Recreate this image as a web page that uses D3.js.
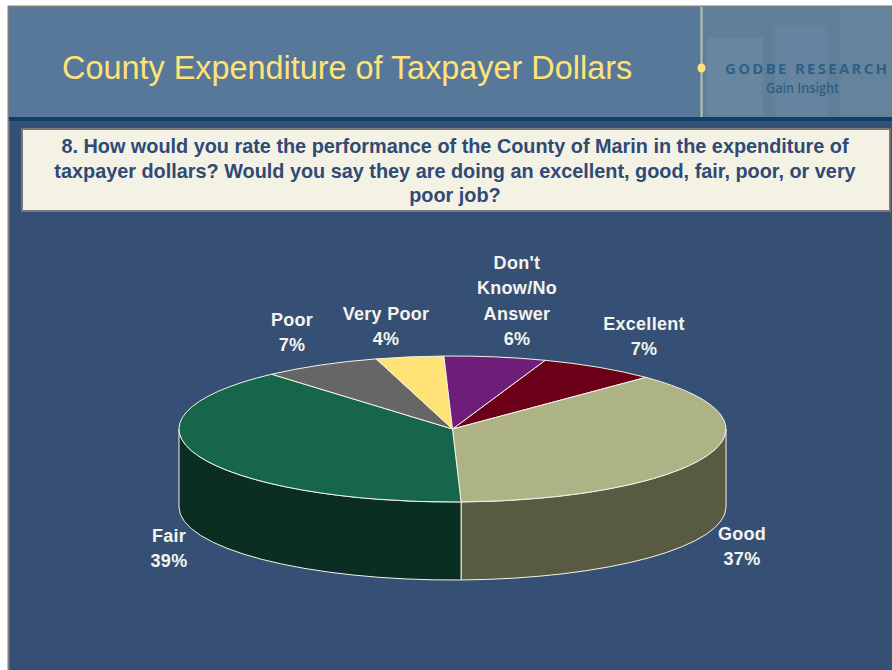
<!DOCTYPE html>
<html>
<head>
    <meta charset="utf-8">
    <title>County Expenditure of Taxpayer Dollars</title>
    <script src="https://d3js.org/d3.v7.min.js"></script>
    <style>
        html, body { margin: 0; padding: 0; background: #fff; }
        svg { display: block; }
        text { font-family: "Liberation Sans", Arial, sans-serif; }
        .label { font-size: 18px; font-weight: bold; fill: #f4f4ee; text-anchor: middle; letter-spacing: 0.3px; }
        .question { font-size: 19.85px; font-weight: bold; fill: #2f4a75; text-anchor: middle; }
    </style>
</head>
<body>
    <div id="chart"></div>

    <script>
        // data, clockwise from the top
        const categories = ["Excellent", "Good", "Fair", "Poor", "Very Poor", "Don't Know/No Answer"];
        const values = [7, 37, 39, 7, 4, 6];
        const topColors = ["#6c0018", "#aeb386", "#15664a", "#666666", "#ffe377", "#6e1d78"];
        const sideColors = ["#36000c", "#585a42", "#0a2e22", "#333333", "#80713b", "#370e3c"];
        const labelLines = [["Excellent", "7%"], ["Good", "37%"], ["Fair", "39%"], ["Poor", "7%"], ["Very Poor", "4%"], ["Don't", "Know/No", "Answer", "6%"]];
        const labelSpots = [[644, 330], [742, 540], [169, 542], [292, 326], [386, 320], [517, 269]];
        const questionLines = [
            "8. How would you rate the performance of the County of Marin in the expenditure of",
            "taxpayer dollars? Would you say they are doing an excellent, good, fair, poor, or very",
            "poor job?"
        ];

        const width = 892;
        const height = 670;
        const cx = 452.5, cy = 429, rx = 273.5, ry = 73, depth = 78;
        const rad = Math.PI / 180;

        const svg = d3.select("#chart")
            .append("svg")
            .attr("width", width)
            .attr("height", height);

        const defs = svg.append("defs");
        defs.append("filter").attr("id", "soft")
            .append("feGaussianBlur").attr("stdDeviation", 1.2);

        // slide background
        svg.append("rect").attr("x", 8).attr("y", 6).attr("width", 884).attr("height", 664)
            .attr("fill", "#365075");
        svg.append("path").attr("d", "M8.5,670V6.5H892").attr("fill", "none").attr("stroke", "#7f7f7f").attr("stroke-width", 2);

        // header band
        svg.append("rect").attr("x", 9).attr("y", 7).attr("width", 883).attr("height", 110)
            .attr("fill", "#587899");
        svg.append("rect").attr("x", 702).attr("y", 7).attr("width", 190).attr("height", 110)
            .attr("fill", "#5f7e98");

        // faint building shapes behind the logo
        const logoBack = svg.append("g").attr("filter", "url(#soft)");
        logoBack.append("rect").attr("x", 707).attr("y", 38).attr("width", 56).attr("height", 79)
            .attr("fill", "#68879f");
        logoBack.append("rect").attr("x", 775).attr("y", 25).attr("width", 52).attr("height", 92)
            .attr("fill", "#66849f");
        logoBack.append("rect").attr("x", 840).attr("y", 7).attr("width", 52).attr("height", 110)
            .attr("fill", "#65839b");

        svg.append("rect").attr("x", 9).attr("y", 117).attr("width", 883).attr("height", 4)
            .attr("fill", "#0e4068");
        svg.append("rect").attr("x", 700.5).attr("y", 7).attr("width", 2).attr("height", 110)
            .attr("fill", "#b9c3a9");
        svg.append("ellipse").attr("cx", 701.5).attr("cy", 68).attr("rx", 4).attr("ry", 4.5)
            .attr("fill", "#ffe377");

        svg.append("text").attr("x", 62).attr("y", 79)
            .style("font-size", "32.4px").attr("fill", "#ffe377")
            .text("County Expenditure of Taxpayer Dollars");

        svg.append("text").attr("x", 725).attr("y", 74)
            .attr("textLength", 162).attr("lengthAdjust", "spacing")
            .style("font-family", "'Open Sans', sans-serif").style("font-size", "15px").style("font-weight", "700")
            .attr("fill", "#2e5f85").text("GODBE RESEARCH");
        svg.append("text").attr("x", 766).attr("y", 93)
            .attr("textLength", 73).attr("lengthAdjust", "spacingAndGlyphs")
            .style("font-family", "'Open Sans', sans-serif").style("font-size", "14px").style("font-weight", "600")
            .attr("fill", "#2e5f85").text("Gain Insight");

        // question box
        svg.append("rect").attr("x", 22).attr("y", 129).attr("width", 868).attr("height", 82)
            .attr("fill", "#f3f2e5").attr("stroke", "#777777").attr("stroke-width", 2);
        svg.selectAll(".question").data(questionLines).enter().append("text")
            .attr("class", "question")
            .attr("x", 455)
            .attr("y", (d, i) => 153 + i * 24.5)
            .text(d => d);

        // pie
        const pie = d3.pie().sort(null).startAngle(19.8 * rad).endAngle((19.8 + 360) * rad);
        const slices = pie(values);
        const norm = a => (a / rad) % 360;

        // front wall only shows between 90 and 270 degrees
        const pt = (a, dy) => [cx + rx * Math.sin(a), cy - ry * Math.cos(a) + dy];
        const wallPath = (a0, a1) => {
            const p = pt(a0, 0), q = pt(a1, 0), r = pt(a1, depth), s = pt(a0, depth);
            return `M${p}A${rx},${ry} 0 0 1 ${q}L${r}A${rx},${ry} 0 0 0 ${s}Z`;
        };
        const walls = svg.append("g");
        slices.forEach((d, i) => {
            const a0 = Math.max(norm(d.startAngle), 90);
            const a1 = Math.min(norm(d.startAngle) + (d.endAngle - d.startAngle) / rad, 270);
            if (a1 <= a0) return;
            walls.append("path")
                .attr("d", wallPath(a0 * rad, a1 * rad))
                .attr("fill", sideColors[i])
                .attr("stroke", "#f4f4e8")
                .attr("stroke-width", 1);
        });

        const arc = d3.arc().innerRadius(0).outerRadius(rx);
        svg.append("g")
            .attr("transform", `translate(${cx},${cy}) scale(1,${ry / rx})`)
            .selectAll("path")
            .data(slices)
            .enter().append("path")
            .attr("d", arc)
            .attr("fill", (d, i) => topColors[i])
            .attr("stroke", "#f4f4e8")
            .attr("stroke-width", 1)
            .attr("vector-effect", "non-scaling-stroke");

        // labels
        labelLines.forEach((lines, i) => {
            svg.selectAll(null).data(lines).enter().append("text")
                .attr("class", "label")
                .attr("x", labelSpots[i][0])
                .attr("y", (d, j) => labelSpots[i][1] + j * 25.3)
                .text(d => d);
        });
    </script>
</body>
</html>
